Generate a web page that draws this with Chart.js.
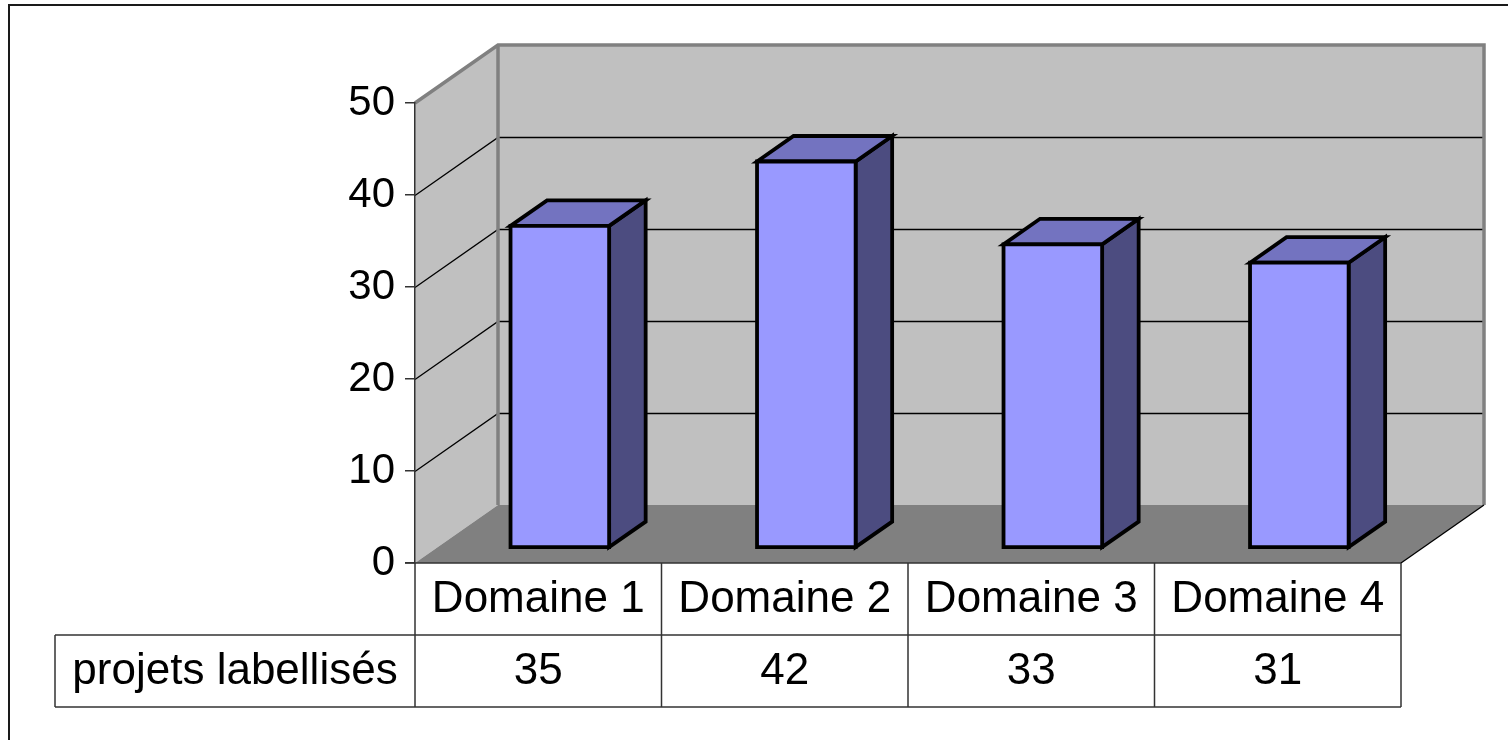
<!DOCTYPE html>
<html lang="fr">
<head>
    <meta charset="UTF-8">
    <title>Projets labellisés par domaine</title>
    <script src="https://cdn.jsdelivr.net/npm/chart.js"></script>
    <style>
        body {
            margin: 0;
            padding: 0;
            background-color: #ffffff;
        }
        canvas {
            display: block;
        }
    </style>
</head>
<body>
<canvas id="projChart" width="1508" height="740"></canvas>
<script>
    // Données du graphique
    const categories = ["Domaine 1", "Domaine 2", "Domaine 3", "Domaine 4"];
    const seriesName = "projets labellisés";
    const seriesValues = [35, 42, 33, 31];
    const yTicks = [0, 10, 20, 30, 40, 50];

    const FONT = "'Liberation Sans', Arial, sans-serif";
    const TICK_SIZE = 42;
    const TABLE_SIZE = 44;
    // décalage de profondeur (perspective)
    const DX = 83, DY = -58;
    const BAR_FRONT = 0.26, BAR_BACK = 0.70;

    function poly(ctx, pts, fill, stroke, lw) {
        ctx.beginPath();
        ctx.moveTo(pts[0][0], pts[0][1]);
        for (let i = 1; i < pts.length; i++) ctx.lineTo(pts[i][0], pts[i][1]);
        ctx.closePath();
        if (fill) { ctx.fillStyle = fill; ctx.fill(); }
        if (stroke) { ctx.strokeStyle = stroke; ctx.lineWidth = lw; ctx.lineJoin = "miter"; ctx.stroke(); }
    }

    // Murs, sol et quadrillage
    const wallsPlugin = {
        id: "walls",
        beforeDraw(chart) {
            const ctx = chart.ctx;
            const a = chart.chartArea;
            const y = chart.scales.y;
            ctx.save();
            // cadre extérieur
            ctx.strokeStyle = "#1a1a1a";
            ctx.lineWidth = 2;
            ctx.strokeRect(9, 5, 1540, 780);
            const L = a.left, R = a.right, T = a.top, B = a.bottom;
            // mur gauche
            poly(ctx, [[L, T], [L + DX, T + DY], [L + DX, B + DY], [L, B]], "#c0c0c0");
            // mur du fond
            poly(ctx, [[L + DX, T + DY], [R + DX, T + DY], [R + DX, B + DY], [L + DX, B + DY]], "#c0c0c0");
            // sol
            poly(ctx, [[L, B], [L + DX, B + DY], [R + DX, B + DY], [R, B]], "#808080");
            // quadrillage
            ctx.strokeStyle = "#000000";
            ctx.lineWidth = 1.3;
            yTicks.forEach(v => {
                if (v === 0 || v === 50) return;
                const py = Math.round(y.getPixelForValue(v)) + 0.5;
                ctx.beginPath();
                ctx.moveTo(L, py);
                ctx.lineTo(L + DX, py + DY);
                ctx.lineTo(R + DX, py + DY);
                ctx.stroke();
            });
            // bords gris des murs
            ctx.strokeStyle = "#808080";
            ctx.lineWidth = 3.5;
            ctx.beginPath();
            ctx.moveTo(L, T);
            ctx.lineTo(L + DX, T + DY);
            ctx.lineTo(R + DX, T + DY);
            ctx.lineTo(R + DX, B + DY);
            ctx.moveTo(L + DX, T + DY);
            ctx.lineTo(L + DX, B + DY);
            ctx.stroke();
            // bord du sol
            ctx.strokeStyle = "#000000";
            ctx.lineWidth = 1.3;
            ctx.beginPath();
            ctx.moveTo(R + DX, B + DY);
            ctx.lineTo(R, B);
            ctx.stroke();
            ctx.restore();
        },
        afterDatasetsDraw(chart) {
            const ctx = chart.ctx;
            const meta = chart.getDatasetMeta(0);
            ctx.save();
            meta.data.forEach(bar => {
                const p = bar.getProps(["x", "y", "base", "width"], true);
                const ox = BAR_FRONT * DX, oy = BAR_FRONT * DY;
                const dx = (BAR_BACK - BAR_FRONT) * DX, dy = (BAR_BACK - BAR_FRONT) * DY;
                const x0 = p.x - p.width / 2 + ox, x1 = p.x + p.width / 2 + ox;
                const top = p.y + oy, bot = p.base + oy;
                // face latérale
                poly(ctx, [[x1, top], [x1 + dx, top + dy], [x1 + dx, bot + dy], [x1, bot]], "#4c4c80", "#000", 3.8);
                // dessus
                poly(ctx, [[x0, top], [x0 + dx, top + dy], [x1 + dx, top + dy], [x1, top]], "#7373c0", "#000", 3.8);
                // face avant
                poly(ctx, [[x0, top], [x1, top], [x1, bot], [x0, bot]], "#9999ff", "#000", 3.8);
            });
            ctx.restore();
        },
        // Tableau de données sous le graphique
        afterDraw(chart) {
            const ctx = chart.ctx;
            const a = chart.chartArea;
            const x = chart.scales.x;
            const L = a.left, R = a.right, B = a.bottom;
            const rowH = 72;
            const r1 = B + rowH, r2 = B + 2 * rowH;
            const headLeft = 55;
            const cw = (R - L) / categories.length;
            ctx.save();
            ctx.strokeStyle = "#333333";
            ctx.lineWidth = 1.5;
            ctx.beginPath();
            ctx.moveTo(L - 10, B); ctx.lineTo(R, B);
            ctx.moveTo(headLeft, r1); ctx.lineTo(R, r1);
            ctx.moveTo(headLeft, r2); ctx.lineTo(R, r2);
            ctx.moveTo(headLeft, r1); ctx.lineTo(headLeft, r2);
            for (let i = 0; i <= categories.length; i++) {
                ctx.moveTo(L + i * cw, B); ctx.lineTo(L + i * cw, r2);
            }
            ctx.stroke();
            ctx.fillStyle = "#000000";
            ctx.font = TABLE_SIZE + "px " + FONT;
            ctx.textAlign = "center";
            ctx.textBaseline = "middle";
            categories.forEach((c, i) => {
                const cx = x.getPixelForValue(i);
                ctx.fillText(c, cx, B + rowH / 2 + 1);
                ctx.fillText(String(seriesValues[i]), cx, r1 + rowH / 2 + 1);
            });
            ctx.fillText(seriesName, (headLeft + L) / 2, r1 + rowH / 2 + 1);
            ctx.restore();
        }
    };

    const ctx = document.getElementById("projChart").getContext("2d");
    const projChart = new Chart(ctx, {
        type: "bar",
        data: {
            labels: categories,
            datasets: [{
                label: seriesName,
                data: seriesValues,
                backgroundColor: "rgba(0,0,0,0)",
                borderWidth: 0,
                categoryPercentage: 1.0,
                barPercentage: 0.4
            }]
        },
        options: {
            responsive: false,
            animation: false,
            layout: {
                padding: { left: 0, right: 107, top: 103, bottom: 177 }
            },
            plugins: {
                legend: { display: false },
                tooltip: { enabled: false }
            },
            scales: {
                x: {
                    display: false,
                    offset: true
                },
                y: {
                    min: 0,
                    max: 50,
                    afterFit: (scale) => { scale.width = 415; },
                    afterBuildTicks: (scale) => { scale.ticks = yTicks.map(v => ({ value: v })); },
                    grid: {
                        drawOnChartArea: false,
                        drawTicks: true,
                        tickLength: 10,
                        color: "#333333",
                        lineWidth: 1.5
                    },
                    border: { display: true, color: "#333333", width: 1.5 },
                    ticks: {
                        padding: 10,
                        color: "#000000",
                        font: { family: FONT, size: TICK_SIZE }
                    }
                }
            }
        },
        plugins: [wallsPlugin]
    });
</script>
</body>
</html>
